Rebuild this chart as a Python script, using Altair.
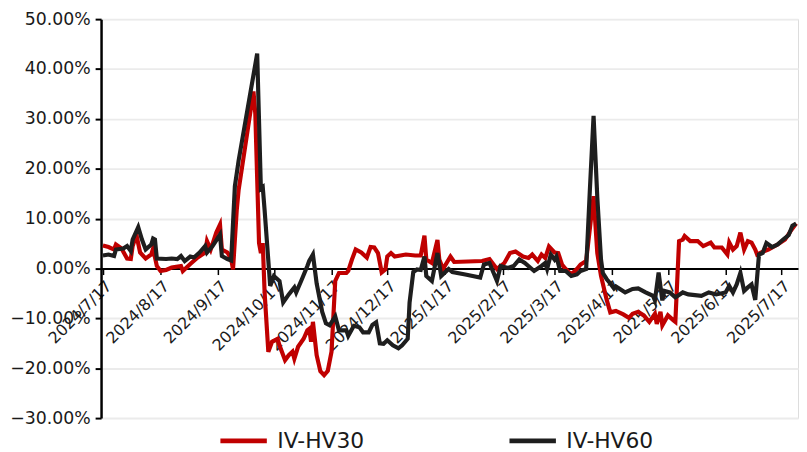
import altair as alt
import pandas as pd

series_names = ["IV-HV30", "IV-HV60"]

hv30_dates = [
    "2024-07-17", "2024-07-20", "2024-07-23", "2024-07-24", "2024-07-27", "2024-07-30",
    "2024-08-01", "2024-08-02", "2024-08-04", "2024-08-06", "2024-08-09", "2024-08-12",
    "2024-08-13", "2024-08-15", "2024-08-17", "2024-08-20", "2024-08-23", "2024-08-28",
    "2024-08-29", "2024-09-02", "2024-09-06", "2024-09-10", "2024-09-11", "2024-09-13",
    "2024-09-16", "2024-09-18", "2024-09-19", "2024-09-22", "2024-09-24", "2024-09-25",
    "2024-09-27", "2024-09-28", "2024-10-06", "2024-10-07", "2024-10-09", "2024-10-10",
    "2024-10-11", "2024-10-12", "2024-10-14", "2024-10-16", "2024-10-19", "2024-10-20",
    "2024-10-23", "2024-10-25", "2024-10-27", "2024-10-28", "2024-10-30", "2024-11-02",
    "2024-11-04", "2024-11-05", "2024-11-06", "2024-11-07", "2024-11-09", "2024-11-11",
    "2024-11-13", "2024-11-15", "2024-11-17", "2024-11-19", "2024-11-21", "2024-11-25",
    "2024-11-26", "2024-11-28", "2024-11-30", "2024-12-03", "2024-12-06", "2024-12-08",
    "2024-12-10", "2024-12-12", "2024-12-14", "2024-12-16", "2024-12-17", "2024-12-19",
    "2024-12-21", "2024-12-27", "2025-01-01", "2025-01-04", "2025-01-06", "2025-01-07",
    "2025-01-10", "2025-01-13", "2025-01-14", "2025-01-16", "2025-01-20", "2025-01-22",
    "2025-02-06", "2025-02-10", "2025-02-14", "2025-02-18", "2025-02-21", "2025-02-24",
    "2025-02-28", "2025-03-03", "2025-03-05", "2025-03-08", "2025-03-10", "2025-03-12",
    "2025-03-14", "2025-03-17", "2025-03-19", "2025-03-21", "2025-03-23", "2025-03-26",
    "2025-03-29", "2025-03-31", "2025-04-03", "2025-04-07", "2025-04-09", "2025-04-11",
    "2025-04-14", "2025-04-16", "2025-04-19", "2025-04-23", "2025-04-26", "2025-04-28",
    "2025-05-01", "2025-05-04", "2025-05-07", "2025-05-10", "2025-05-11", "2025-05-13",
    "2025-05-14", "2025-05-17", "2025-05-20", "2025-05-21", "2025-05-23", "2025-05-25",
    "2025-05-26", "2025-05-29", "2025-06-02", "2025-06-05", "2025-06-09", "2025-06-11",
    "2025-06-15", "2025-06-18", "2025-06-19", "2025-06-21", "2025-06-23", "2025-06-25",
    "2025-06-27", "2025-06-29", "2025-07-01", "2025-07-03", "2025-07-04", "2025-07-06",
    "2025-07-10", "2025-07-15", "2025-07-19", "2025-07-22", "2025-07-25",
]
hv30_values = [
    4.6, 4.3, 3.8, 4.8, 4.0, 2.0,
    1.9, 4.5, 6.8, 3.2, 2.0, 2.8,
    4.0, 0.5, -0.5, -0.3, 0.2, 0.5,
    -0.5, 0.9, 2.2, 3.2, 5.5, 3.8,
    7.2, 8.8, 3.8, 3.2, 1.9, -0.2,
    11.7, 15.7, 35.5, 31.0, 5.1, 3.1,
    5.1, -4.8, -16.7, -14.7, -14.1, -15.4,
    -18.4, -17.4, -16.7, -18.1, -15.7, -14.1,
    -12.4, -12.1, -14.7, -10.7, -17.4, -20.6,
    -21.4, -20.5, -16.7, -2.5, -0.9, -0.9,
    -0.5, 1.8, 3.8, 3.2, 2.2, 4.3,
    4.2, 3.1, -0.8, -0.2, 2.4, 3.1,
    2.4, 2.8, 2.6, 2.6, 6.6, 1.8,
    1.1, 5.7, 1.8, -0.1, 2.4, 1.3,
    1.5, 1.9, -0.1, 1.1, 3.1, 3.4,
    2.4, 2.1, 2.8, 1.5, 2.8, 2.1,
    4.4, 3.2, 3.1, 0.8, -0.1, -1.2,
    -0.1, 0.8, 1.5, 14.5, 3.1, -1.5,
    -6.2, -8.8, -8.5, -9.2, -9.9, -9.1,
    -8.7, -9.4, -10.7, -9.1, -11.1, -8.7,
    -11.4, -9.4, -10.4, -10.7, 5.5, 5.8,
    6.5, 5.5, 5.5, 4.5, 5.2, 4.2,
    4.2, 2.8, 5.2, 3.8, 4.5, 7.2,
    3.8, 5.5, 5.2, 3.8, 2.8, 3.2,
    3.8, 4.8, 5.8, 7.5, 9.0,
]

hv60_dates = [
    "2024-07-17", "2024-07-20", "2024-07-23", "2024-07-24", "2024-07-28", "2024-07-30",
    "2024-08-01", "2024-08-02", "2024-08-05", "2024-08-07", "2024-08-09", "2024-08-12",
    "2024-08-13", "2024-08-14", "2024-08-15", "2024-08-20", "2024-08-23", "2024-08-26",
    "2024-08-28", "2024-08-30", "2024-09-02", "2024-09-04", "2024-09-07", "2024-09-10",
    "2024-09-11", "2024-09-14", "2024-09-18", "2024-09-19", "2024-09-22", "2024-09-24",
    "2024-09-26", "2024-09-28", "2024-10-08", "2024-10-10", "2024-10-11", "2024-10-12",
    "2024-10-15", "2024-10-17", "2024-10-20", "2024-10-22", "2024-10-25", "2024-10-28",
    "2024-10-29", "2024-11-01", "2024-11-04", "2024-11-05", "2024-11-07", "2024-11-09",
    "2024-11-12", "2024-11-14", "2024-11-16", "2024-11-19", "2024-11-21", "2024-11-25",
    "2024-11-26", "2024-11-29", "2024-12-02", "2024-12-04", "2024-12-07", "2024-12-09",
    "2024-12-11", "2024-12-13", "2024-12-15", "2024-12-17", "2024-12-20", "2024-12-23",
    "2024-12-25", "2024-12-28", "2024-12-29", "2024-12-31", "2025-01-02", "2025-01-04",
    "2025-01-06", "2025-01-07", "2025-01-10", "2025-01-13", "2025-01-15", "2025-01-19",
    "2025-01-21", "2025-01-28", "2025-02-05", "2025-02-07", "2025-02-10", "2025-02-14",
    "2025-02-16", "2025-02-20", "2025-02-23", "2025-02-26", "2025-03-01", "2025-03-06",
    "2025-03-10", "2025-03-12", "2025-03-13", "2025-03-15", "2025-03-17", "2025-03-18",
    "2025-03-20", "2025-03-23", "2025-03-26", "2025-03-29", "2025-03-31", "2025-04-03",
    "2025-04-05", "2025-04-07", "2025-04-09", "2025-04-11", "2025-04-12", "2025-04-14",
    "2025-04-16", "2025-04-18", "2025-04-19", "2025-04-22", "2025-04-24", "2025-04-28",
    "2025-05-01", "2025-05-05", "2025-05-09", "2025-05-10", "2025-05-12", "2025-05-14",
    "2025-05-15", "2025-05-18", "2025-05-21", "2025-05-25", "2025-05-28", "2025-06-04",
    "2025-06-08", "2025-06-12", "2025-06-17", "2025-06-19", "2025-06-21", "2025-06-23",
    "2025-06-25", "2025-06-27", "2025-06-29", "2025-07-01", "2025-07-03", "2025-07-05",
    "2025-07-07", "2025-07-09", "2025-07-12", "2025-07-15", "2025-07-18", "2025-07-21",
    "2025-07-23", "2025-07-25",
]
hv60_values = [
    2.6, 2.8, 2.5, 3.8, 4.0, 4.5,
    3.5, 5.8, 8.3, 5.8, 3.8, 4.8,
    6.0, 5.8, 2.0, 1.9, 2.0, 1.9,
    2.5, 1.5, 2.4, 2.2, 3.2, 4.5,
    3.2, 4.5, 6.8, 2.5, 1.9, 1.6,
    16.5, 21.6, 43.1, 16.0, 16.3, 11.7,
    -3.5, -1.5, -2.5, -6.8, -5.2, -3.8,
    -4.8, -2.2, 0.5, 1.5, 2.8, -3.0,
    -8.7, -11.0, -11.4, -9.6, -12.4, -12.4,
    -13.5, -11.5, -11.8, -12.8, -12.8, -11.3,
    -10.8, -15.0, -15.1, -14.4, -15.4, -16.0,
    -15.4, -14.1, -6.8, -0.7, -0.2, -0.3,
    2.4, -1.5, -2.5, 3.1, -1.5, -0.1,
    -0.7, -1.2, -1.8, 0.8, 1.1, -2.5,
    0.5, 0.1, 0.5, 1.8, 1.1, -0.5,
    0.5, 1.1, -0.1, 2.8, 1.8, 2.4,
    -0.5, -0.5, -1.5, -1.2, -0.5, -0.1,
    15.7, 30.6, 14.3, 1.8, -0.9, -2.1,
    -3.0, -4.0, -3.6, -4.3, -4.8, -4.1,
    -4.0, -4.8, -5.5, -6.4, -0.8, -6.4,
    -4.5, -4.8, -5.8, -4.8, -5.2, -5.5,
    -4.8, -5.2, -4.8, -3.5, -4.8, -3.2,
    -0.9, -4.5, -3.8, -3.2, -6.3, 2.8,
    3.1, 5.1, 4.3, 4.8, 5.8, 6.7,
    8.6, 9.0,
]

x_tick_months = [(2024, m) for m in range(7, 13)] + [(2025, m) for m in range(1, 8)]
y_ticks = [-30, -20, -10, 0, 10, 20, 30, 40, 50]
x_domain = ["2024-07-16", "2025-07-26"]

df = pd.concat([
    pd.DataFrame({"date": hv30_dates, "value": hv30_values, "series": series_names[0]}),
    pd.DataFrame({"date": hv60_dates, "value": hv60_values, "series": series_names[1]}),
])

FONT = "DejaVu Sans"
TEXT = "#1a1a1a"

x_enc = alt.X(
    "date:T",
    scale=alt.Scale(type="utc", domain=x_domain),
    axis=alt.Axis(
        title=None,
        values=[alt.DateTime(year=y, month=m, date=17, utc=True) for y, m in x_tick_months],
        labelExpr="utcFormat(datum.value, '%Y/%-m/%-d')",
        labelAngle=-45,
        labelAlign="right",
        labelBaseline="top",
        labelFont=FONT,
        labelFontSize=16,
        labelColor=TEXT,
        labelOverlap=False,
        labelFlush=False,
        labelBound=False,
        labelPadding=3,
        offset=-151,
        domainColor="#000000",
        domainWidth=2,
        tickColor="#000000",
        tickWidth=1.5,
        tickSize=6,
        grid=False,
    ),
)

y_enc = alt.Y(
    "value:Q",
    scale=alt.Scale(domain=[-30, 50], nice=False, zero=False),
    axis=alt.Axis(
        title=None,
        values=y_ticks,
        labelExpr="format(datum.value, '.2f') + '%'",
        labelFont=FONT,
        labelFontSize=17.5,
        labelColor=TEXT,
        labelPadding=5,
        domainColor="#000000",
        domainWidth=2.5,
        tickColor="#000000",
        tickWidth=2,
        tickSize=6,
        grid=True,
        gridColor="#ebebeb",
        gridWidth=2,
    ),
)

chart = (
    alt.Chart(df)
    .mark_line(strokeWidth=4.2, clip=True)
    .encode(
        x=x_enc,
        y=y_enc,
        color=alt.Color(
            "series:N",
            scale=alt.Scale(domain=series_names, range=["#c00000", "#1e1e1e"]),
            legend=alt.Legend(
                title=None,
                orient="none",
                legendX=118,
                legendY=400,
                direction="horizontal",
                symbolType="stroke",
                symbolSize=2200,
                symbolStrokeWidth=5,
                labelFont=FONT,
                labelFontSize=22,
                labelColor=TEXT,
                labelOffset=8,
                columnPadding=136,
                labelLimit=300,
            ),
        ),
        order=alt.Order("date:T"),
    )
    .properties(
        width=704,
        height=403,
        autosize=alt.AutoSizeParams(type="none"),
        padding={"left": 94, "top": 9, "right": 1, "bottom": 32},
    )
    .configure_view(stroke=None)
    .configure(background="white")
)

chart.save("out.html", embed_options={"renderer": "svg", "actions": False})
